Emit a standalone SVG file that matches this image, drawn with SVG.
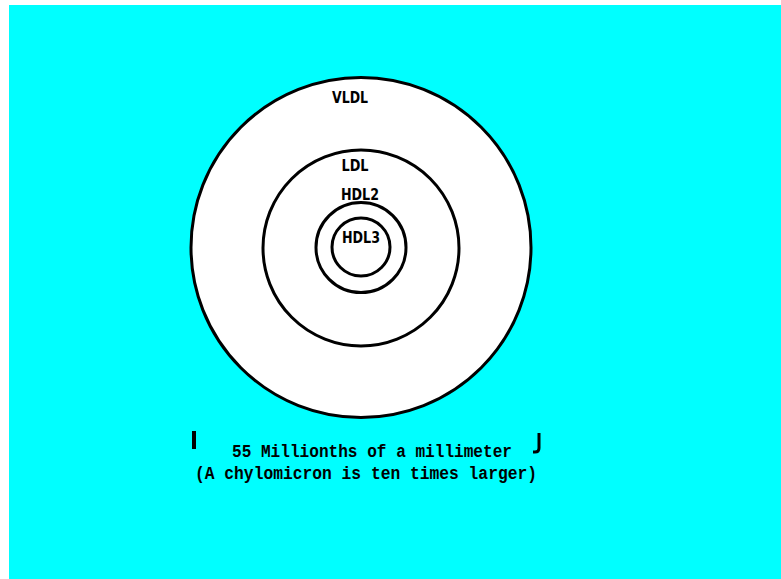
<svg xmlns="http://www.w3.org/2000/svg" width="781" height="579" viewBox="0 0 781 579">
<style>
.ring{fill:#fff;stroke:#000;stroke-width:3}
.lbl{font-family:"DejaVu Sans Condensed","DejaVu Sans",sans-serif;font-weight:bold;font-size:16px;fill:#000;text-anchor:middle}
.cap{font-family:"Liberation Mono","DejaVu Sans Mono",monospace;font-weight:bold;font-size:18px;fill:#000}
</style>
<rect x="0" y="0" width="781" height="579" fill="#fff"/>
<rect x="9" y="5" width="772" height="574" fill="#00ffff"/>
<g id="vldl"><circle class="ring" cx="361" cy="247.5" r="170"/><text class="lbl" x="350" y="103" textLength="36" lengthAdjust="spacingAndGlyphs">VLDL</text></g>
<g id="ldl"><circle class="ring" cx="361" cy="248" r="98"/><text class="lbl" x="355" y="171" textLength="27" lengthAdjust="spacingAndGlyphs">LDL</text></g>
<g id="hdl2"><circle class="ring" cx="361" cy="247.5" r="45"/><text class="lbl" x="360" y="200" textLength="38" lengthAdjust="spacingAndGlyphs">HDL2</text></g>
<g id="hdl3"><circle class="ring" cx="361" cy="247" r="29"/><text class="lbl" x="361" y="243" textLength="38" lengthAdjust="spacingAndGlyphs">HDL3</text></g>
<g id="caption">
<rect x="192" y="431" width="4" height="18" fill="#000"/>
<path d="M539 433 V448 Q539 452 535 452 H533" fill="none" stroke="#000" stroke-width="3"/>
<text class="cap" x="232" y="457" textLength="280" lengthAdjust="spacingAndGlyphs">55 Millionths of a millimeter</text>
<text class="cap" x="195" y="479" textLength="342" lengthAdjust="spacingAndGlyphs">(A chylomicron is ten times larger)</text>
</g>
</svg>
